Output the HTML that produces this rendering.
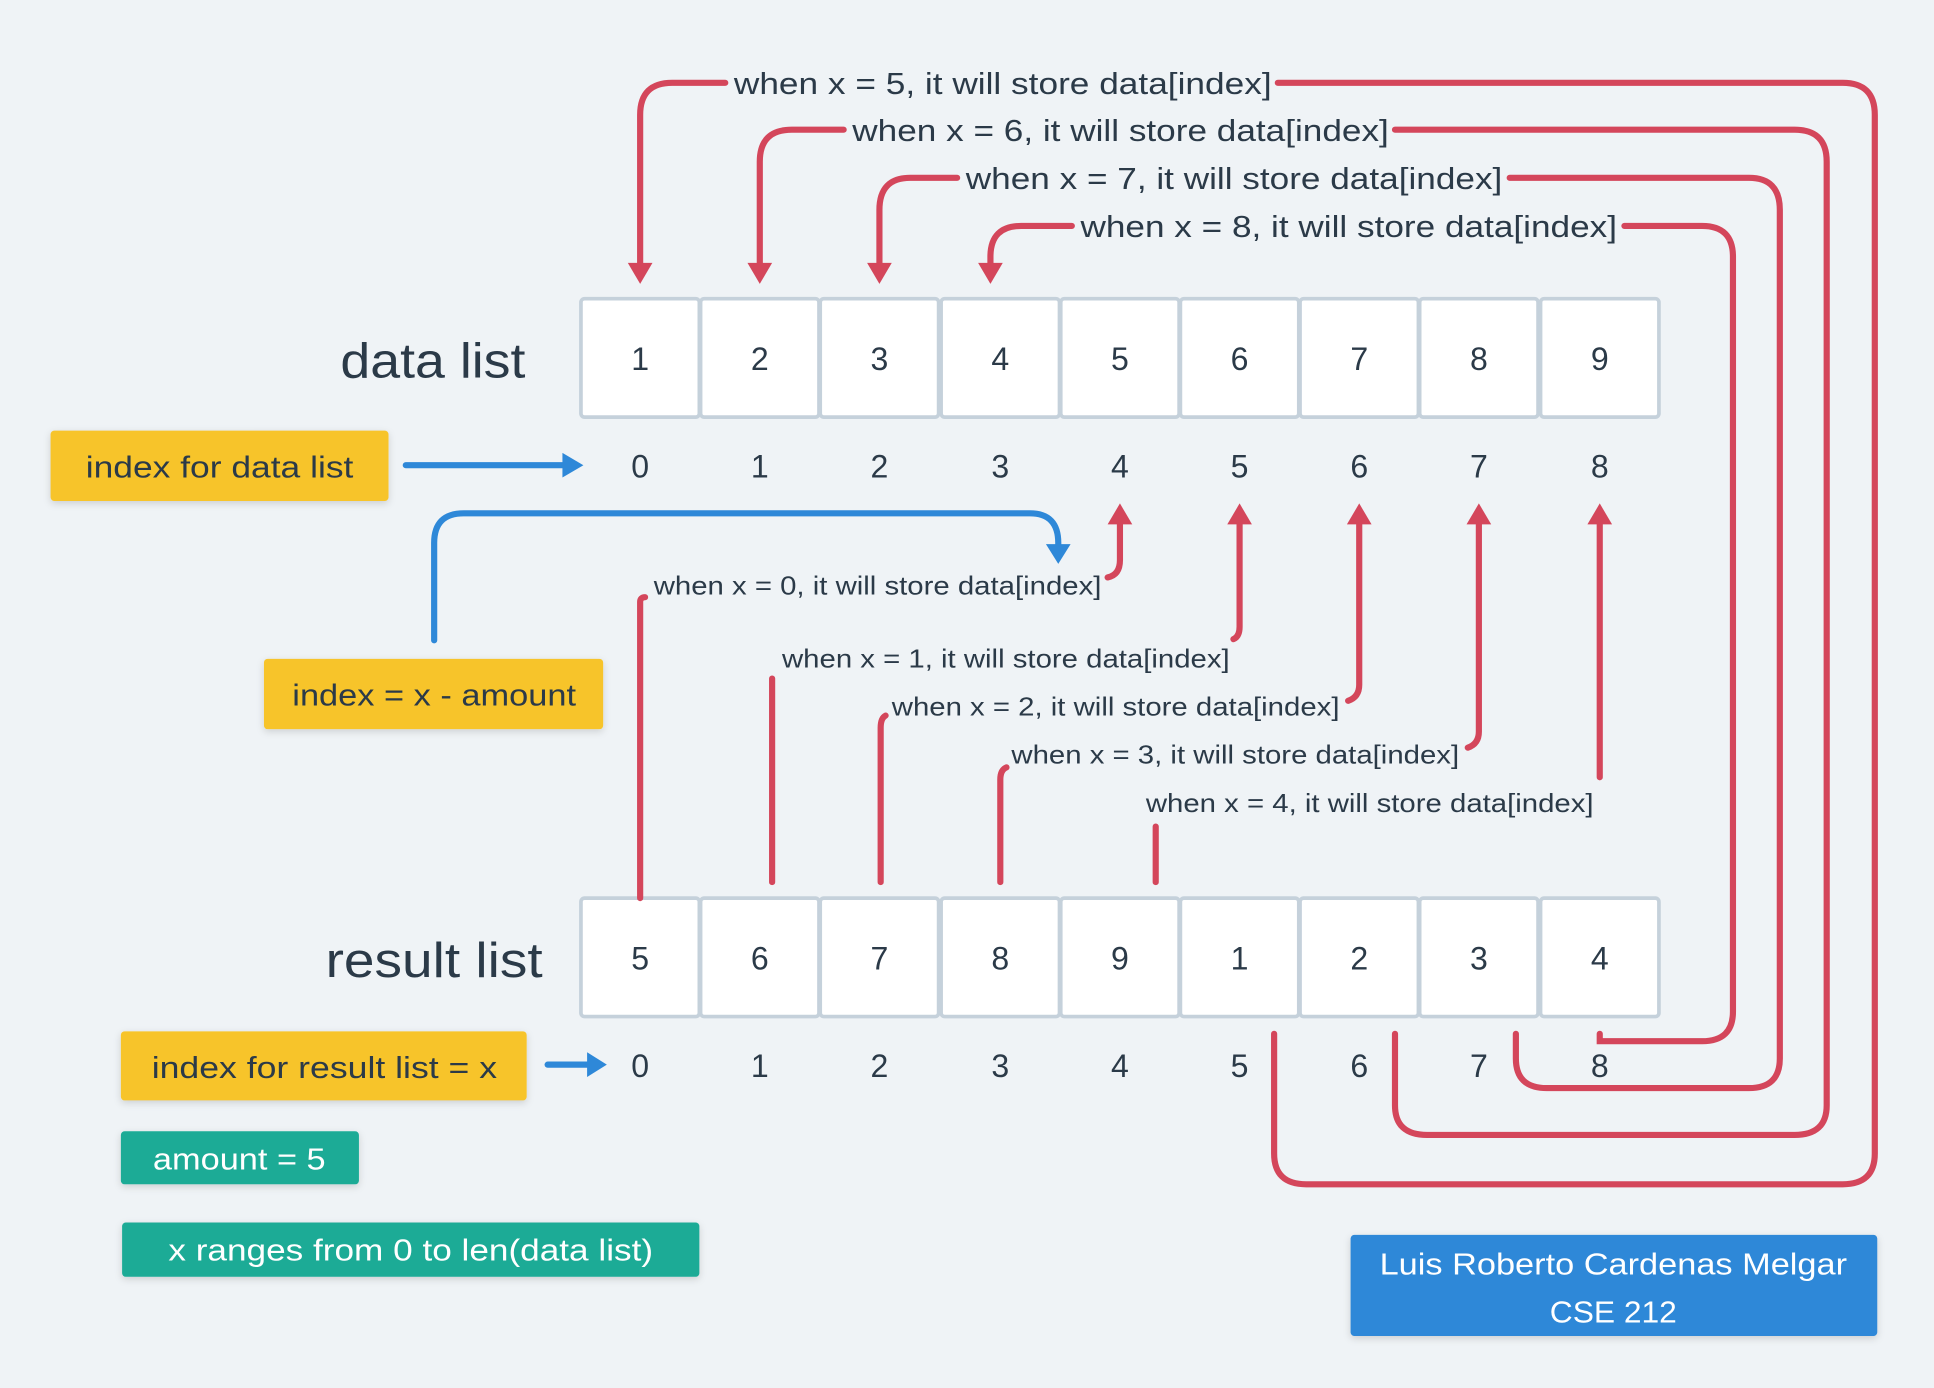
<!DOCTYPE html>
<html><head><style>
html,body{margin:0;padding:0;background:#eff3f6;}
svg{display:block}
text{font-family:"Liberation Sans",sans-serif;fill:#2b3a48}
</style></head><body>
<svg width="1934" height="1388" viewBox="0 0 1568 1125" xmlns="http://www.w3.org/2000/svg">
<rect width="1568" height="1125" fill="#eff3f6"/>
<defs>
<filter id="sh" x="-10%" y="-10%" width="120%" height="140%"><feDropShadow dx="0" dy="2" stdDeviation="3" flood-opacity="0.15"/></filter>
</defs>
<g fill="#fff" stroke="#c5d1db" stroke-width="3">
<rect x="471" y="242" width="96" height="96" rx="3"/><rect x="568" y="242" width="96" height="96" rx="3"/><rect x="665" y="242" width="96" height="96" rx="3"/><rect x="763" y="242" width="96" height="96" rx="3"/><rect x="860" y="242" width="96" height="96" rx="3"/><rect x="957" y="242" width="96" height="96" rx="3"/><rect x="1054" y="242" width="96" height="96" rx="3"/><rect x="1151" y="242" width="96" height="96" rx="3"/><rect x="1249" y="242" width="96" height="96" rx="3"/>
<rect x="471" y="728" width="96" height="96" rx="3"/><rect x="568" y="728" width="96" height="96" rx="3"/><rect x="665" y="728" width="96" height="96" rx="3"/><rect x="763" y="728" width="96" height="96" rx="3"/><rect x="860" y="728" width="96" height="96" rx="3"/><rect x="957" y="728" width="96" height="96" rx="3"/><rect x="1054" y="728" width="96" height="96" rx="3"/><rect x="1151" y="728" width="96" height="96" rx="3"/><rect x="1249" y="728" width="96" height="96" rx="3"/>
</g>
<g font-size="26" text-anchor="middle">
<text x="519" y="300">1</text><text x="616" y="300">2</text><text x="713" y="300">3</text><text x="811" y="300">4</text><text x="908" y="300">5</text><text x="1005" y="300">6</text><text x="1102" y="300">7</text><text x="1199" y="300">8</text><text x="1297" y="300">9</text>
<text x="519" y="387">0</text><text x="616" y="387">1</text><text x="713" y="387">2</text><text x="811" y="387">3</text><text x="908" y="387">4</text><text x="1005" y="387">5</text><text x="1102" y="387">6</text><text x="1199" y="387">7</text><text x="1297" y="387">8</text>
<text x="519" y="786">5</text><text x="616" y="786">6</text><text x="713" y="786">7</text><text x="811" y="786">8</text><text x="908" y="786">9</text><text x="1005" y="786">1</text><text x="1102" y="786">2</text><text x="1199" y="786">3</text><text x="1297" y="786">4</text>
<text x="519" y="873">0</text><text x="616" y="873">1</text><text x="713" y="873">2</text><text x="811" y="873">3</text><text x="908" y="873">4</text><text x="1005" y="873">5</text><text x="1102" y="873">6</text><text x="1199" y="873">7</text><text x="1297" y="873">8</text>
</g>
<text x="426" y="306" font-size="40" text-anchor="end" textLength="150" lengthAdjust="spacingAndGlyphs">data list</text>
<text x="440" y="792" font-size="40" text-anchor="end" textLength="176" lengthAdjust="spacingAndGlyphs">result list</text>
<g fill="none" stroke="#d4465b" stroke-width="5" stroke-linecap="round">
<path d="M588,67 H545 Q519,67 519,93 V214"/>
<path d="M1036,67 H1494 Q1520,67 1520,93 V935 Q1520,960 1494,960 H1059 Q1033,960 1033,935 V838"/>
<path d="M684,105 H642 Q616,105 616,131 V214"/>
<path d="M1131,105 H1455 Q1481,105 1481,131 V896 Q1481,920 1455,920 H1157 Q1131,920 1131,896 V838"/>
<path d="M776,144 H738 Q713,144 713,170 V214"/>
<path d="M1224,144 H1418 Q1443,144 1443,170 V858 Q1443,882 1418,882 H1254 Q1229,882 1229,858 V838"/>
<path d="M869,183 H828 Q803,183 803,208 V214"/>
<path d="M1317,183 H1380 Q1405,183 1405,208 V820 Q1405,844 1380,844 H1297 V838"/>
<path d="M519,728 V488 Q519,484 523,484"/>
<path d="M898,468 Q908,466 908,454 V422"/>
<path d="M626,715 V550"/>
<path d="M1000,518 Q1005,516 1005,508 V422"/>
<path d="M714,715 V590 Q714,582 718,580"/>
<path d="M1093,568 Q1102,565 1102,555 V422"/>
<path d="M811,715 V632 Q811,624 816,622"/>
<path d="M1190,606 Q1199,603 1199,593 V422"/>
<path d="M937,715 V670"/>
<path d="M1297,630 V422"/>
</g>
<g fill="#d4465b">
<polygon points="509,213 529,213 519,230"/><polygon points="606,213 626,213 616,230"/><polygon points="703,213 723,213 713,230"/><polygon points="793,213 813,213 803,230"/>
<polygon points="898,425 918,425 908,408"/><polygon points="995,425 1015,425 1005,408"/><polygon points="1092,425 1112,425 1102,408"/><polygon points="1189,425 1209,425 1199,408"/><polygon points="1287,425 1307,425 1297,408"/>
</g>
<g font-size="25">
<text x="595" y="76" textLength="436" lengthAdjust="spacingAndGlyphs">when x = 5, it will store data[index]</text>
<text x="691" y="114" textLength="435" lengthAdjust="spacingAndGlyphs">when x = 6, it will store data[index]</text>
<text x="783" y="153" textLength="435" lengthAdjust="spacingAndGlyphs">when x = 7, it will store data[index]</text>
<text x="876" y="192" textLength="435" lengthAdjust="spacingAndGlyphs">when x = 8, it will store data[index]</text>
</g>
<g font-size="21">
<text x="530" y="482" textLength="363" lengthAdjust="spacingAndGlyphs">when x = 0, it will store data[index]</text>
<text x="634" y="541" textLength="363" lengthAdjust="spacingAndGlyphs">when x = 1, it will store data[index]</text>
<text x="723" y="580" textLength="363" lengthAdjust="spacingAndGlyphs">when x = 2, it will store data[index]</text>
<text x="820" y="619" textLength="363" lengthAdjust="spacingAndGlyphs">when x = 3, it will store data[index]</text>
<text x="929" y="658" textLength="363" lengthAdjust="spacingAndGlyphs">when x = 4, it will store data[index]</text>
</g>
<g fill="none" stroke="#2e88d8" stroke-width="5" stroke-linecap="round">
<path d="M329,377 H458"/>
<path d="M352,519 V440 Q352,416 376,416 H835 Q858,416 858,440 V443"/>
<path d="M444,863 H478"/>
</g>
<g fill="#2e88d8">
<polygon points="456,367 473,377 456,387"/><polygon points="848,441 868,441 858,457"/><polygon points="476,853 492,863 476,873"/>
</g>
<g filter="url(#sh)">
<rect x="41" y="349" width="274" height="57" rx="3" fill="#f7c42a"/>
<rect x="214" y="534" width="275" height="57" rx="3" fill="#f7c42a"/>
<rect x="98" y="836" width="329" height="56" rx="3" fill="#f7c42a"/>
<rect x="98" y="917" width="193" height="43" rx="3" fill="#1bab96"/>
<rect x="99" y="991" width="468" height="44" rx="3" fill="#1bab96"/>
<rect x="1095" y="1001" width="427" height="82" rx="3" fill="#2e88d8"/>
</g>
<g font-size="25" text-anchor="middle">
<text x="178" y="387" textLength="217" lengthAdjust="spacingAndGlyphs">index for data list</text>
<text x="352" y="572" textLength="230" lengthAdjust="spacingAndGlyphs">index = x - amount</text>
<text x="263" y="874" textLength="280" lengthAdjust="spacingAndGlyphs">index for result list = x</text>
<text x="194" y="948" style="fill:#fff" textLength="140" lengthAdjust="spacingAndGlyphs">amount = 5</text>
<text x="333" y="1022" style="fill:#fff" textLength="393" lengthAdjust="spacingAndGlyphs">x ranges from 0 to len(data list)</text>
<text x="1308" y="1033" style="fill:#fff" textLength="379" lengthAdjust="spacingAndGlyphs">Luis Roberto Cardenas Melgar</text>
<text x="1308" y="1072" style="fill:#fff" textLength="103" lengthAdjust="spacingAndGlyphs">CSE 212</text>
</g>
</svg>
</body></html>
